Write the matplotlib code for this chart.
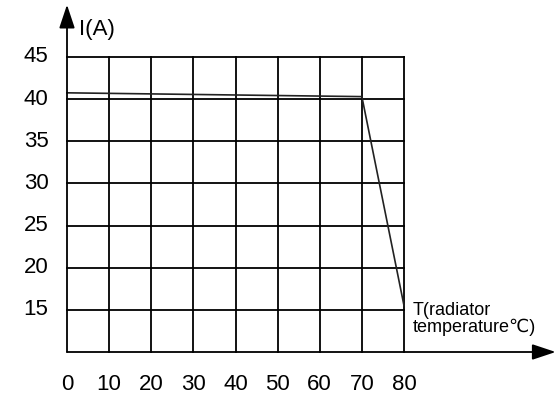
import matplotlib
matplotlib.use("Agg")
import matplotlib.pyplot as plt

# derating curve
temps = [0, 70, 80]
current = [40.75, 40.3, 15.5]

x_ticks = [0, 10, 20, 30, 40, 50, 60, 70, 80]
y_ticks = [15, 20, 25, 30, 35, 40, 45]

plt.rcParams['font.family'] = ['Liberation Sans', 'DejaVu Sans']

fig = plt.figure(figsize=(5.56, 4.01), dpi=100)
ax = fig.add_axes([67 / 556, 49 / 401, 337 / 556, 295 / 401])
ax.set_xlim(0, 80)
ax.set_ylim(10, 45)
ax.axis('off')

# grid
for x in x_ticks[1:]:
    ax.plot([x, x], [10, 45], color='black', lw=1.3, clip_on=False)
for y in y_ticks:
    ax.plot([0, 80], [y, y], color='black', lw=1.3, clip_on=False)

# axes with arrows
arrow = dict(arrowstyle='-|>,head_length=0.9,head_width=0.3', color='black',
             lw=1.3, mutation_scale=16, shrinkA=0, shrinkB=0)
ax.annotate('', xy=(116, 10), xytext=(0, 10), arrowprops=arrow,
            annotation_clip=False)
ax.annotate('', xy=(0, 51.2), xytext=(0, 10), arrowprops=arrow,
            annotation_clip=False)

# curve
ax.plot(temps, current, color='#222222', lw=1.2, clip_on=False)

# tick labels
for x in x_ticks:
    ax.text(x, 6.2, str(x), ha='center', va='center', fontsize=16)
for y in y_ticks:
    ax.text(-4.4, y, str(y), ha='right', va='center', fontsize=16)

ax.text(2.8, 48.3, 'I(A)', ha='left', va='center', fontsize=16)
ax.text(82, 11.9, 'T(radiator\ntemperature\u2103)', ha='left', va='bottom',
        fontsize=13, linespacing=0.95)

fig.savefig('out.png', dpi=100)
